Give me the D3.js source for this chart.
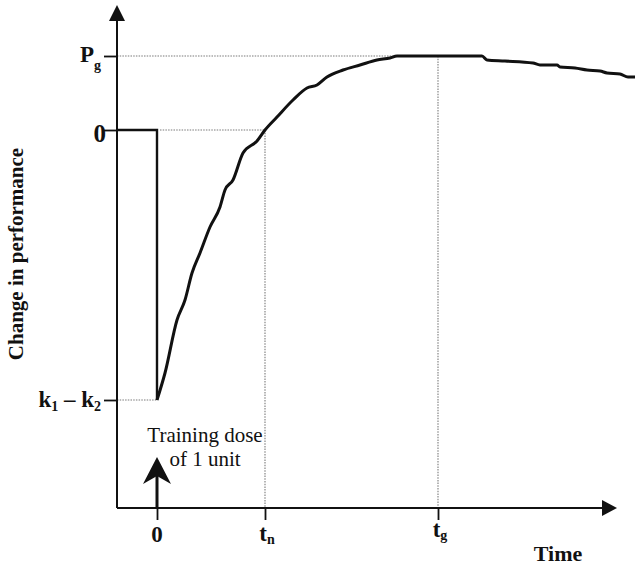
<!DOCTYPE html>
<html>
<head>
<meta charset="utf-8">
<script src="https://cdn.jsdelivr.net/npm/d3@7"></script>
<style>
  html, body { margin: 0; padding: 0; background: #fff; }
  svg { display: block; }
  text { font-family: "Liberation Serif", "Times New Roman", serif; fill: #111; }
</style>
</head>
<body>
<div id="chart"></div>
<script>
// Data (time units, performance units)
const timeMarks = [0, 5.4, 14.05];            // 0, t_n, t_g
const timeLabels = [["0", ""], ["t", "n"], ["t", "g"]];
const perfMarks = [7.4, 0, -27];              // P_g, 0, k1 - k2
const perfLabels = [[["P", ""], ["g", "sub"]], [["0", ""]], [["k", ""], ["1", "sub"], [" \u2013 k", ""], ["2", "sub"]]];

const curveT = [0, 0.4, 1.0, 1.4, 1.75, 2.15, 2.65, 3.15, 3.4, 3.8, 4.3, 5.0, 5.4, 6.0, 6.8, 7.5, 8.0, 8.5,
                9.3, 10.15, 11.0, 11.65, 12.0, 16.25, 16.5, 17.4, 18.8, 19.15, 20.0, 20.15, 20.9, 21.5,
                22.15, 22.5, 23.15, 23.55, 23.9];
const curveP = [-27, -24.3, -19.0, -17.0, -14.3, -12.3, -9.7, -7.7, -6.0, -5.0, -2.3, -1.1, 0, 1.3, 3.0, 4.2, 4.5, 5.3,
                6.0, 6.5, 7.0, 7.2, 7.4, 7.4, 7.0, 6.9, 6.7, 6.5, 6.5, 6.3, 6.2, 6.0,
                5.9, 5.7, 5.6, 5.3, 5.3];

// step before the dose: 0 until time 0, then drop
const stepT = [-2, 0, 0];
const stepP = [0, 0, -27];

const width = 640, height = 567;

const x = d3.scaleLinear().domain([-2, 23]).range([117, 617]);
const y = d3.scaleLinear().domain([-37.8, 12.5]).range([508, 5]);

const svg = d3.select("#chart").append("svg")
    .attr("width", width)
    .attr("height", height);

// Guide lines (dotted)
const guide = svg.append("g")
    .attr("stroke", "#7a7a7a")
    .attr("stroke-width", 1.1)
    .attr("stroke-dasharray", "1.5,1.2")
    .attr("fill", "none");

guide.append("line")
    .attr("x1", x(-2)).attr("x2", x(12)).attr("y1", y(perfMarks[0])).attr("y2", y(perfMarks[0]));
guide.append("line")
    .attr("x1", x(0) + 3).attr("x2", x(timeMarks[1])).attr("y1", y(0)).attr("y2", y(0));
guide.append("line")
    .attr("x1", x(-2)).attr("x2", x(0)).attr("y1", y(perfMarks[2])).attr("y2", y(perfMarks[2]));
guide.append("line")
    .attr("x1", x(timeMarks[1])).attr("x2", x(timeMarks[1])).attr("y1", y(0)).attr("y2", y(-37.8));
guide.append("line")
    .attr("x1", x(timeMarks[2])).attr("x2", x(timeMarks[2])).attr("y1", y(perfMarks[0])).attr("y2", y(-37.8));

// Axes: ticks from d3, lines drawn with arrows
const yAxis = d3.axisLeft(y).tickValues(perfMarks).tickSize(13).tickFormat("");
const xAxis = d3.axisBottom(x).tickValues(timeMarks).tickSize(12).tickFormat("");

const gy = svg.append("g").attr("transform", `translate(${x(-2)},0)`).call(yAxis);
const gx = svg.append("g").attr("transform", `translate(0,${y(-37.8)})`).call(xAxis);
[gy, gx].forEach(g => {
    g.select(".domain").remove();
    g.selectAll(".tick line").attr("stroke", "#111").attr("stroke-width", 1.8);
});

svg.append("line")
    .attr("x1", x(-2)).attr("y1", y(-37.8))
    .attr("x2", x(-2)).attr("y2", 20)
    .attr("stroke", "#111").attr("stroke-width", 2);
svg.append("line")
    .attr("x1", x(-2)).attr("y1", y(-37.8))
    .attr("x2", 604).attr("y2", y(-37.8))
    .attr("stroke", "#111").attr("stroke-width", 2);

// arrow heads
svg.append("path")
    .attr("d", `M${x(-2)},5 L${x(-2) + 8},21 L${x(-2) - 8},21 Z`)
    .attr("fill", "#111");
svg.append("path")
    .attr("d", `M617,${y(-37.8)} L602,${y(-37.8) - 8} L602,${y(-37.8) + 8} Z`)
    .attr("fill", "#111");

// Step and response curve
const line = d3.line().x(d => x(d[0])).y(d => y(d[1]));

svg.append("path")
    .datum(d3.zip(stepT, stepP))
    .attr("d", line)
    .attr("fill", "none")
    .attr("stroke", "#111")
    .attr("stroke-width", 2.4);

svg.append("path")
    .datum(d3.zip(curveT, curveP))
    .attr("d", line.curve(d3.curveMonotoneX))
    .attr("fill", "none")
    .attr("stroke", "#111")
    .attr("stroke-width", 3)
    .attr("stroke-linejoin", "round");

// Training dose arrow
const ax = x(0), base = y(-37.8);
svg.append("line")
    .attr("x1", ax).attr("x2", ax).attr("y1", base).attr("y2", 474)
    .attr("stroke", "#111").attr("stroke-width", 3);
svg.append("path")
    .attr("d", `M${ax},457 L${ax + 14},484 L${ax},476 L${ax - 14},484 Z`)
    .attr("fill", "#111");

svg.append("text")
    .attr("x", 205).attr("y", 442)
    .attr("text-anchor", "middle")
    .style("font-size", "21px")
    .text("Training dose");
svg.append("text")
    .attr("x", 205).attr("y", 466)
    .attr("text-anchor", "middle")
    .style("font-size", "21px")
    .text("of 1 unit");

// Y tick labels with subscripts
const yLabelPos = [[101, 62], [106, 142], [101, 407]];
perfLabels.forEach((parts, i) => {
    const t = svg.append("text")
        .attr("x", yLabelPos[i][0]).attr("y", yLabelPos[i][1])
        .attr("text-anchor", "end")
        .style("font-size", i === 1 ? "25px" : "23px")
        .style("font-weight", "bold");
    parts.forEach((p, j) => {
        const ts = t.append("tspan").text(p[0]);
        if (p[1] === "sub") ts.style("font-size", "14px").attr("dy", i === 0 ? 8 : 4);
        else if (j > 0) ts.attr("dy", -4);
    });
});

// X tick labels
const xLabelY = [542, 541, 537];
timeLabels.forEach((p, i) => {
    const t = svg.append("text")
        .attr("x", x(timeMarks[i]) + (p[1] ? 2 : 0)).attr("y", xLabelY[i])
        .attr("text-anchor", "middle")
        .style("font-size", "23px")
        .style("font-weight", "bold");
    t.append("tspan").text(p[0]);
    if (p[1]) t.append("tspan").text(p[1]).style("font-size", "14px").attr("dy", 3);
});

// Axis titles
svg.append("text")
    .attr("x", 558).attr("y", 561)
    .attr("text-anchor", "middle")
    .style("font-size", "22px")
    .style("font-weight", "bold")
    .text("Time");

svg.append("text")
    .attr("transform", "translate(23,254) rotate(-90)")
    .attr("text-anchor", "middle")
    .style("font-size", "21px")
    .style("font-weight", "bold")
    .text("Change in performance");
</script>
</body>
</html>
